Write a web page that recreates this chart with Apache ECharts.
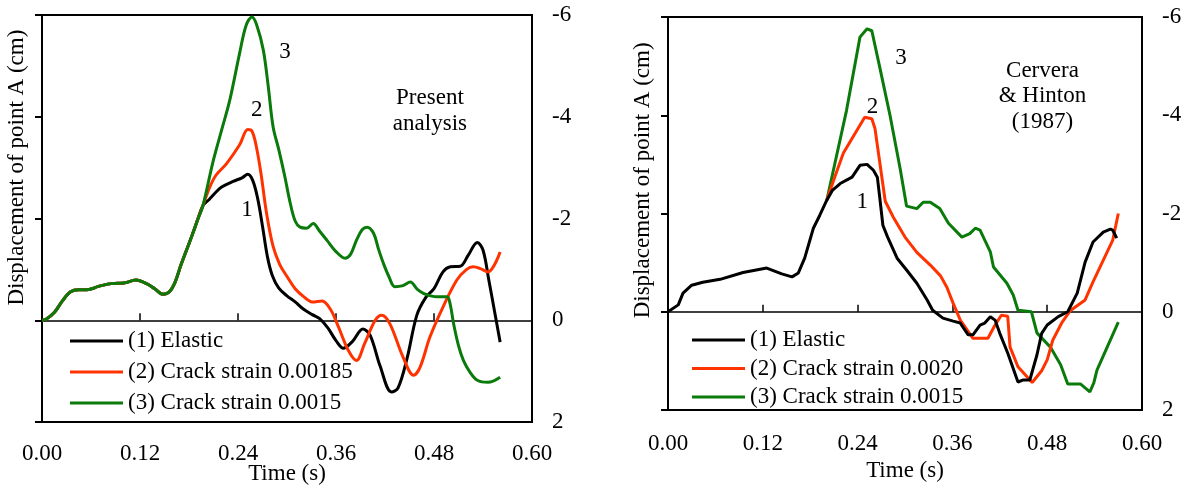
<!DOCTYPE html>
<html>
<head>
<meta charset="utf-8">
<script src="https://cdn.jsdelivr.net/npm/echarts@6/dist/echarts.min.js"></script>
<style>html,body{margin:0;padding:0;background:#fff}#c{width:1187px;height:495px}</style>
</head>
<body>
<div id="c"></div>
<script>
// ---------- DATA ----------
const xTicks = [0, 0.12, 0.24, 0.36, 0.48, 0.60];
const yTicks = [-6, -4, -2, 0, 2];

// Left panel: Present analysis  [time (s), displacement (cm)]
const leftShared = [[0,0],[0.005,-0.02],[0.015,-0.15],[0.025,-0.38],[0.035,-0.56],[0.045,-0.60],[0.055,-0.60],
  [0.070,-0.67],[0.085,-0.72],[0.100,-0.73],[0.115,-0.79],[0.128,-0.72],[0.138,-0.62],[0.148,-0.51],[0.156,-0.56],
  [0.163,-0.75],[0.170,-1.08],[0.177,-1.38],[0.184,-1.68],[0.190,-1.95],[0.197,-2.25]];
const leftElastic = [[0.205,-2.38],[0.212,-2.50],[0.220,-2.62],[0.234,-2.73],[0.245,-2.80],[0.252,-2.87],[0.258,-2.75],
  [0.264,-2.40],[0.270,-1.85],[0.276,-1.25],[0.282,-0.88],[0.290,-0.63],[0.300,-0.48],[0.310,-0.36],[0.320,-0.22],
  [0.331,-0.11],[0.340,-0.03],[0.350,0.15],[0.360,0.40],[0.369,0.55],[0.380,0.42],[0.393,0.17],[0.402,0.30],
  [0.414,0.90],[0.428,1.41],[0.436,1.33],[0.447,0.75],[0.459,-0.10],[0.470,-0.45],[0.480,-0.62],[0.491,-0.95],
  [0.500,-1.05],[0.512,-1.06],[0.522,-1.28],[0.533,-1.53],[0.540,-1.38],[0.547,-0.80],[0.555,-0.10],[0.561,0.43]];
const leftCrack185 = [[0.205,-2.60],[0.213,-2.85],[0.226,-3.08],[0.242,-3.45],[0.252,-3.75],[0.257,-3.72],[0.262,-3.45],
  [0.268,-2.90],[0.275,-2.10],[0.283,-1.45],[0.291,-1.10],[0.300,-0.86],[0.310,-0.62],[0.320,-0.47],[0.331,-0.36],
  [0.343,-0.38],[0.353,-0.22],[0.363,0.13],[0.375,0.59],[0.385,0.79],[0.395,0.46],[0.408,0.00],[0.416,-0.10],
  [0.426,0.07],[0.442,0.72],[0.455,1.08],[0.463,0.92],[0.475,0.33],[0.491,-0.26],[0.508,-0.79],[0.520,-1.00],
  [0.528,-1.05],[0.536,-1.02],[0.546,-0.95],[0.561,-1.34]];
const leftCrack15 = [[0.209,-3.09],[0.220,-3.74],[0.230,-4.33],[0.242,-5.25],[0.250,-5.80],[0.257,-5.96],[0.263,-5.80],
  [0.271,-5.31],[0.277,-4.60],[0.283,-3.80],[0.290,-3.35],[0.297,-2.85],[0.304,-2.30],[0.310,-1.95],[0.316,-1.83],
  [0.324,-1.81],[0.332,-1.90],[0.340,-1.75],[0.349,-1.57],[0.360,-1.35],[0.371,-1.22],[0.378,-1.30],[0.385,-1.57],
  [0.392,-1.78],[0.398,-1.83],[0.406,-1.71],[0.412,-1.40],[0.418,-1.12],[0.425,-0.85],[0.432,-0.66],[0.442,-0.68],
  [0.451,-0.75],[0.460,-0.60],[0.467,-0.53],[0.476,-0.48],[0.484,-0.46],[0.496,-0.46],[0.500,-0.30],[0.504,0.07],
  [0.510,0.50],[0.516,0.79],[0.524,1.02],[0.533,1.18],[0.546,1.22],[0.561,1.12]];

// Right panel: Cervera & Hinton (1987)
const rightElastic = [[0,0],[0.013,-0.14],[0.019,-0.38],[0.030,-0.54],[0.044,-0.60],[0.066,-0.66],[0.095,-0.80],
  [0.125,-0.89],[0.144,-0.77],[0.157,-0.71],[0.165,-0.79],[0.173,-1.09],[0.184,-1.70],[0.192,-1.96],[0.201,-2.27],
  [0.208,-2.47],[0.218,-2.61],[0.233,-2.74],[0.243,-2.98],[0.252,-3.00],[0.260,-2.88],[0.265,-2.74],[0.268,-2.33],
  [0.272,-1.76],[0.278,-1.52],[0.290,-1.09],[0.302,-0.85],[0.315,-0.58],[0.328,-0.24],[0.335,-0.03],[0.348,0.13],
  [0.361,0.19],[0.370,0.23],[0.380,0.47],[0.386,0.47],[0.395,0.27],[0.401,0.23],[0.408,0.10],[0.414,0.17],
  [0.420,0.44],[0.430,0.84],[0.443,1.43],[0.449,1.39],[0.458,1.39],[0.467,0.88],[0.473,0.44],[0.480,0.27],
  [0.494,0.10],[0.506,0.00],[0.518,-0.38],[0.528,-1.01],[0.538,-1.42],[0.551,-1.62],[0.560,-1.68],[0.563,-1.66],
  [0.568,-1.50]];
const rightCrack20 = [[0.201,-2.27],[0.211,-2.74],[0.222,-3.23],[0.249,-3.96],[0.258,-3.93],[0.262,-3.73],[0.275,-2.25],
  [0.285,-1.93],[0.300,-1.52],[0.315,-1.21],[0.332,-0.95],[0.345,-0.73],[0.353,-0.50],[0.361,-0.17],[0.370,0.17],
  [0.386,0.54],[0.405,0.54],[0.414,0.27],[0.422,0.07],[0.430,0.09],[0.433,0.72],[0.443,1.12],[0.461,1.44],
  [0.473,1.20],[0.480,0.98],[0.487,0.58],[0.499,0.21],[0.509,-0.02],[0.528,-0.24],[0.538,-0.61],[0.563,-1.46],
  [0.570,-2.00]];
const rightCrack15 = [[0.201,-2.27],[0.226,-4.10],[0.243,-5.59],[0.252,-5.76],[0.258,-5.72],[0.268,-4.98],[0.281,-4.00],
  [0.294,-2.90],[0.302,-2.15],[0.315,-2.10],[0.323,-2.23],[0.332,-2.23],[0.344,-2.10],[0.355,-1.80],[0.372,-1.52],
  [0.382,-1.59],[0.389,-1.70],[0.395,-1.66],[0.408,-1.22],[0.412,-0.91],[0.429,-0.58],[0.437,-0.34],[0.443,-0.03],
  [0.460,0.00],[0.467,0.43],[0.484,0.72],[0.497,1.08],[0.506,1.47],[0.522,1.47],[0.534,1.63],[0.539,1.45],
  [0.543,1.19],[0.570,0.21]];

const leftNames = ['(1) Elastic', '(2) Crack strain 0.00185', '(3) Crack strain 0.0015'];
const rightNames = ['(1) Elastic', '(2) Crack strain 0.0020', '(3) Crack strain 0.0015'];
const leftNotes = [['3',0.2976,-5.28],['2',0.263,-4.13],['1',0.251,-2.17],['Present',0.475,-4.37],['analysis',0.475,-3.86]];
const rightNotes = [['3',0.295,-5.16],['2',0.259,-4.16],['1',0.246,-2.23],['Cervera',0.474,-4.91],['& Hinton',0.474,-4.40],['(1987)',0.474,-3.86]];
const yName = 'Displacement of point A (cm)';
const xName = 'Time (s)';

// ---------- CHART ----------
const FONT = 'Liberation Serif, Times New Roman, serif';
const FS = 23;
const BLACK = '#000000', RED = '#ff3300', GREEN = '#0a7a0a';
const txt = {color:'#000', fontSize:FS, fontFamily:FONT};

function xAxes(g, labelMargin, nameGap){
  return [
    {gridIndex:g, type:'value', min:xTicks[0], max:xTicks[xTicks.length-1], interval:xTicks[1]-xTicks[0], position:'bottom',
     axisLine:{show:false, onZero:false}, axisTick:{show:false}, splitLine:{show:false},
     axisLabel:Object.assign({margin:labelMargin, formatter:v=>v.toFixed(2), showMinLabel:true, showMaxLabel:true}, txt),
     name:xName, nameLocation:'middle', nameGap:nameGap, nameMoveOverlap:false, nameTextStyle:txt},
    {gridIndex:g, type:'value', min:xTicks[0], max:xTicks[xTicks.length-1], interval:xTicks[1]-xTicks[0], position:'bottom',
     axisLine:{show:true, onZero:true, lineStyle:{color:'#000', width:1.5}},
     axisTick:{show:true, inside:true, length:7, lineStyle:{color:'#000', width:1.5}},
     axisLabel:{show:false}, splitLine:{show:false}}
  ];
}
function yAxes(g){
  const base = {gridIndex:g, type:'value', min:yTicks[0], max:yTicks[yTicks.length-1], interval:yTicks[1]-yTicks[0], inverse:true, splitLine:{show:false}};
  return [
    Object.assign({}, base, {position:'left', axisLine:{show:false}, axisTick:{show:true, length:7, lineStyle:{color:'#000', width:2}}, axisLabel:{show:false}}),
    Object.assign({}, base, {position:'right', axisLine:{show:false}, axisTick:{show:false},
      axisLabel:Object.assign({margin:20, padding:[5,0,0,0]}, txt)})
  ];
}
function line(name, data, color, xi, yi, smooth){
  return {name, type:'line', data, xAxisIndex:xi, yAxisIndex:yi, symbol:'none', smooth:smooth, silent:true,
    lineStyle:{color, width:3}, itemStyle:{color}};
}

const chart = echarts.init(document.getElementById('c'), null, {renderer:'canvas'});
const option = {
  animation:false,
  backgroundColor:'#fff',
  grid:[
    {left:42, top:15, width:490, height:407, show:true, borderColor:'#000', borderWidth:2, containLabel:false},
    {left:668, top:17, width:474, height:393, show:true, borderColor:'#000', borderWidth:2, containLabel:false}
  ],
  xAxis:[...xAxes(0, 20, 40), ...xAxes(1, 22, 49)],
  yAxis:[...yAxes(0), ...yAxes(1)],
  legend:[
    {data:leftNames, orient:'vertical', left:70, top:329, padding:0, icon:'rect', itemWidth:53, itemHeight:3, itemGap:7,
     textStyle:Object.assign({lineHeight:24}, txt), selectedMode:false},
    {data:rightNames, orient:'vertical', left:692, top:328, padding:0, icon:'rect', itemWidth:53, itemHeight:3, itemGap:4.5,
     textStyle:Object.assign({lineHeight:24}, txt), selectedMode:false}
  ],
  series:[
    line(leftNames[0], leftShared.concat(leftElastic), BLACK, 0, 0, 0.35),
    line(leftNames[1], leftShared.concat(leftCrack185), RED, 0, 0, 0.35),
    line(leftNames[2], leftShared.concat(leftCrack15), GREEN, 0, 0, 0.35),
    line(rightNames[2], rightCrack15, GREEN, 2, 2, false),
    line(rightNames[1], rightCrack20, RED, 2, 2, false),
    line(rightNames[0], rightElastic, BLACK, 2, 2, false)
  ]
};
chart.setOption(option);

// annotations placed through the axes
const graphics = [];
function addNotes(notes, xi, yi){
  notes.forEach(n=>{
    const p = chart.convertToPixel({xAxisIndex:xi, yAxisIndex:yi}, [n[1], n[2]]);
    graphics.push({type:'text', x:p[0], y:p[1], silent:true,
      style:{text:n[0], fill:'#000', font:FS+'px '+FONT, textAlign:'center', textVerticalAlign:'middle'}});
  });
}
addNotes(leftNotes, 0, 0);
addNotes(rightNotes, 2, 2);
// rotated y-axis titles, centred on the 0..-6 span of each panel
function addYName(xi, yi, xpx){
  const a = chart.convertToPixel({xAxisIndex:xi, yAxisIndex:yi}, [0, -6]);
  const b = chart.convertToPixel({xAxisIndex:xi, yAxisIndex:yi}, [0, 0]);
  return {x:xpx, y:(a[1]+b[1])/2};
}
const l = addYName(0, 0, 17), r = addYName(2, 2, 643);
graphics.push({type:'text', x:l.x, y:l.y, rotation:Math.PI/2, silent:true,
  style:{text:yName, fill:'#000', font:FS+'px '+FONT, textAlign:'center', textVerticalAlign:'middle'}});
graphics.push({type:'text', x:r.x, y:r.y+16, rotation:Math.PI/2, silent:true,
  style:{text:yName, fill:'#000', font:FS+'px '+FONT, textAlign:'center', textVerticalAlign:'middle'}});
chart.setOption({graphic:graphics});
</script>
</body>
</html>
